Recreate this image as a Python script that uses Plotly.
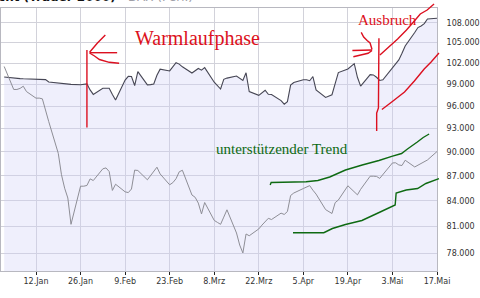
import plotly.graph_objects as go
import pandas as pd

# ---------------- data ----------------
dates = pd.bdate_range("2004-01-02", "2004-05-17")

fund = [100.04, 99.84, 99.83, 99.81, 99.78, 99.77, 99.73, 99.71, 99.71, 99.67, 99.34, 99.17, 99.15, 99.14, 99.08, 99.00, 98.95, 99.03, 99.06, 98.23, 97.61,
        98.45, 98.45, 98.45, 97.60, 96.84, 99.60, 100.13, 100.11, 98.84, 100.79, 98.93, 98.97, 99.05, 100.27, 101.15, 100.89, 101.47, 102.07, 101.87, 101.48,
        100.60, 100.96, 101.24, 101.01, 101.37, 99.30, 98.82, 98.35, 99.71, 99.88, 100.17, 99.80, 99.55, 100.63, 98.00, 97.48, 97.86, 98.18, 97.63, 97.59, 96.76, 96.27, 96.62,
        98.90, 99.26, 99.65, 99.64, 99.51, 100.10, 98.22, 97.19, 97.37, 97.56, 99.10, 100.66, 101.18, 101.63, 101.94, 99.99, 98.75, 100.37, 100.33, 100.00, 99.55, 99.63,
        101.37, 101.86, 102.48, 103.44, 104.51, 106.52, 107.26, 107.51, 107.85, 108.57, 108.67]

dax = [101.53, 98.29, 98.29, 98.44, 98.74, 98.00, 97.09, 97.10, 97.00, 95.27, 93.93, 89.82, 87.15, 85.51, 84.33, 81.26, 85.75, 85.75, 85.84, 86.64, 86.44,
       87.88, 87.99, 87.54, 85.24, 85.99, 85.07, 84.98, 85.41, 87.72, 87.67, 86.53, 87.04, 87.58, 88.08, 87.25, 85.92, 86.18, 86.66, 87.51, 87.70,
       84.69, 84.42, 83.73, 82.46, 83.80, 81.71, 81.48, 81.26, 82.09, 82.94, 80.27, 78.92, 78.04, 80.16, 79.96, 80.73, 81.17, 81.60, 81.95, 81.81, 82.55, 82.40, 82.74,
       84.63, 84.93, 85.47, 85.69, 85.82, 85.27, 84.80, 82.96, 82.72, 82.51, 83.78, 84.09, 85.80, 85.42, 85.05, 84.71, 85.37, 86.97, 86.97, 86.94, 86.70, 87.20,
       88.61, 88.63, 88.36, 88.29, 88.95, 88.11, 88.31, 88.49, 88.69, 88.98, 90.05]

x_tickvals = ["2004-01-12", "2004-01-26", "2004-02-09", "2004-02-23", "2004-03-08",
              "2004-03-22", "2004-04-05", "2004-04-19", "2004-05-03", "2004-05-17"]
x_ticktext = ["12.Jan", "26.Jan", "9.Feb", "23.Feb", "8.Mrz", "22.Mrz", "5.Apr", "19.Apr", "3.Mai", "17.Mai"]

y_tickvals = [78, 81, 84, 87, 90, 93, 96, 99, 102, 105, 108]
y_ticktext = ["78.000", "81.000", "84.000", "87.000", "90.000", "93.000", "96.000", "99.000", "102.000", "105.000", "108.000"]

# ---------------- layout geometry ----------------
W, H = 480, 298
ML, MR, MT, MB = 0, 37, 8, 27
PW = W - ML - MR
PH = H - MT - MB
Y_RANGE = [1.88127, 2.04243]          # log10 of axis limits
FLOOR = 10 ** Y_RANGE[0]              # bottom edge of the plot, for the area fill


def px(x):
    return (x - ML) / PW


def py(y):
    return (H - MB - y) / PH


def path(points):
    s = ""
    for i, (x, y) in enumerate(points):
        s += ("M" if i == 0 else "L") + f"{px(x):.5f},{py(y):.5f} "
    return s.strip()


RED = "#dc1020"
GREEN = "#0e6a12"

red_strokes = [
    [(87.3, 50), (87.3, 127.5)],
    [(90, 52.7), (118, 52.7)],
    [(90, 52.3), (98, 43), (106, 35)],
    [(90, 53), (95, 56), (100, 59.5), (110, 62.3), (120, 63.3)],
    [(384, 38.3), (383.5, 108), (381.7, 113), (381.7, 131)],
    [(357, 50.5), (377, 50)],
    [(358, 56.7), (373, 53.3), (377, 50.5)],
    [(366, 32.3), (368.5, 37), (372, 40.5), (375, 43), (377, 49.5)],
    [(385, 55), (403, 39), (412, 30), (420, 21), (426, 14), (433, 10), (440, 4)],
    [(387, 109.5), (397, 102), (410, 92), (420, 81), (430, 69), (437, 62), (445, 53)],
]
green_strokes = [
    [(273.5, 185), (274.5, 182.5), (310, 181.8), (322, 180.5), (334, 177), (350, 170), (367, 165),
     (384, 160.5), (397, 156.3), (407, 153.5), (413, 149), (423, 142), (429, 137.5), (435, 134)],
    [(296.7, 232.7), (328, 232.7), (336.7, 228.5), (350, 224.5), (366.7, 220.5), (382, 213.5),
     (400.5, 205), (401.5, 193), (411.7, 190), (423.3, 188.5), (431.7, 183.5), (445, 178.7)],
]

shapes = []
for pts in red_strokes:
    shapes.append(dict(type="path", xref="paper", yref="paper", path=path(pts),
                       line=dict(color=RED, width=1.4), layer="above"))
for pts in green_strokes:
    shapes.append(dict(type="path", xref="paper", yref="paper", path=path(pts),
                       line=dict(color=GREEN, width=1.4), layer="above"))

SERIF = "Liberation Serif, Times New Roman, serif"
annotations = [
    dict(text="Warmlaufphase", x=px(134), y=py(38.7), xref="paper", yref="paper",
         xanchor="left", yanchor="middle", showarrow=False,
         font=dict(family=SERIF, size=20, color=RED)),
    dict(text="Ausbruch", x=px(361), y=py(19.8), xref="paper", yref="paper",
         xanchor="left", yanchor="middle", showarrow=False,
         font=dict(family=SERIF, size=15, color=RED)),
    dict(text="unterstützender Trend", x=px(216), y=py(148.8), xref="paper", yref="paper",
         xanchor="left", yanchor="middle", showarrow=False,
         font=dict(family=SERIF, size=15, color=GREEN)),
    dict(text="<b>Macht (Trader 2000)</b>", x=px(119), y=py(-3), xref="paper", yref="paper",
         xanchor="right", yanchor="middle", showarrow=False,
         font=dict(family="DejaVu Sans", size=12, color="#111111")),
    dict(text="DAX (Perf.)", x=px(127), y=py(-3), xref="paper", yref="paper",
         xanchor="left", yanchor="middle", showarrow=False,
         font=dict(family="DejaVu Sans", size=12, color="#a0a0a8")),
]

fig = go.Figure()
# area below the fund line (closed polygon down to the plot floor)
fig.add_trace(go.Scatter(x=list(dates) + [dates[-1], dates[0]],
                         y=fund + [FLOOR, FLOOR],
                         mode="lines", fill="toself",
                         fillcolor="rgba(205,205,245,0.33)",
                         line=dict(width=0), hoverinfo="skip"))
fig.add_trace(go.Scatter(x=dates, y=fund, mode="lines",
                         line=dict(color="#464654", width=1.1), hoverinfo="skip"))
fig.add_trace(go.Scatter(x=dates, y=dax, mode="lines",
                         line=dict(color="#8e8e96", width=1), hoverinfo="skip"))

fig.update_layout(
    width=W, height=H,
    margin=dict(l=ML, r=MR, t=MT, b=MB),
    paper_bgcolor="white", plot_bgcolor="white",
    showlegend=False,
    shapes=shapes,
    annotations=annotations,
    xaxis=dict(type="date", range=["2004-01-01", "2004-05-17"],
               tickmode="array", tickvals=x_tickvals, ticktext=x_ticktext,
               showgrid=True, gridcolor="#d2d2da", gridwidth=1,
               showline=True, linecolor="#b8b8c0", mirror=True,
               ticks="outside", ticklen=3, tickcolor="#222222",
               ticklabelstandoff=-1,
               tickfont=dict(family="DejaVu Sans", size=8, color="#333333"),
               zeroline=False),
    yaxis=dict(type="log", range=Y_RANGE, side="right",
               tickmode="array", tickvals=y_tickvals, ticktext=y_ticktext,
               showgrid=True, gridcolor="#d2d2da", gridwidth=1,
               showline=True, linecolor="#b8b8c0", mirror=True,
               ticks="", ticklabelstandoff=7,
               tickfont=dict(family="DejaVu Sans", size=8, color="#333333"),
               zeroline=False),
)

fig.write_html("out.html")
